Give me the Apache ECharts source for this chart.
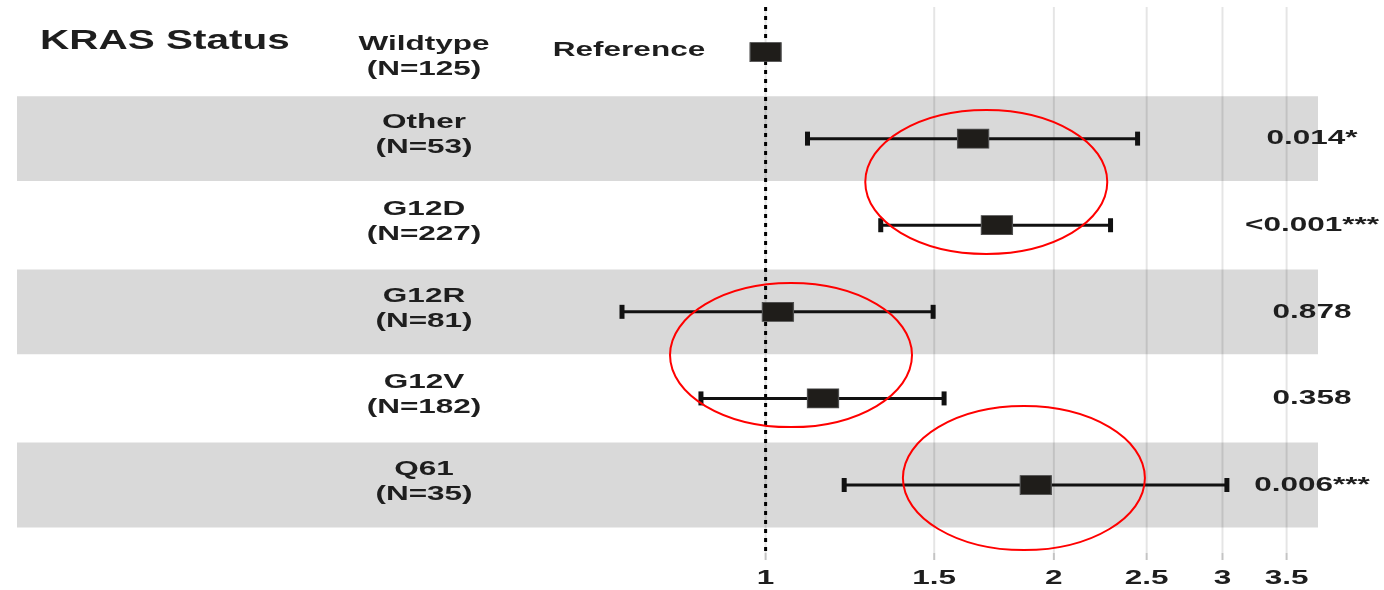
<!DOCTYPE html>
<html>
<head>
<meta charset="utf-8">
<script src="https://cdn.jsdelivr.net/npm/echarts@6/dist/echarts.min.js"></script>
<style>
  html, body { margin: 0; padding: 0; background: #ffffff; }
  #chart { width: 1384px; height: 590px; }
</style>
</head>
<body>
<div id="chart"></div>
<script>
// Forest plot: hazard ratios by KRAS status (log scale)
const groupTitle = 'KRAS Status';
const categories = ['Wildtype', 'Other', 'G12D', 'G12R', 'G12V', 'Q61'];
const counts = [125, 53, 227, 81, 182, 35];
const hazardRatio = [1, 1.647, 1.744, 1.030, 1.148, 1.915];
const ciLower = [null, 1.106, 1.319, 0.708, 0.856, 1.208];
const ciUpper = [null, 2.446, 2.292, 1.496, 1.536, 3.032];
const pLabels = [null, '0.014*', '<0.001***', '0.878', '0.358', '0.006***'];
const referenceLabel = 'Reference';
const tickValues = [1, 1.5, 2, 2.5, 3, 3.5];
const tickLabels = ['1', '1.5', '2', '2.5', '3', '3.5'];
// highlighted groups: hazard ratio / row position of each circled region
const highlightHR = [1.70, 1.063, 1.861];
const highlightRow = [1.5, 3.5, 4.92];

const LN = v => Math.log(v);
const STRETCH = 1.5;
const INK = '#1e1e1e';
const rows = categories.map((_, i) => i);

function label(x, y, str, size, align) {
  return {
    type: 'text', x: x, y: y, scaleX: STRETCH,
    style: {
      text: str,
      font: 'bold ' + size + 'px "Liberation Sans", Arial, sans-serif',
      fill: INK, align: align, verticalAlign: 'middle'
    }
  };
}

const chart = echarts.init(document.getElementById('chart'), null, { renderer: 'canvas' });

const option = {
  animation: false,
  backgroundColor: '#ffffff',
  grid: { left: 0, right: 0, top: 7, bottom: 37, containLabel: false },
  xAxis: { type: 'value', min: -1.841, max: 1.487, show: false },
  yAxis: { type: 'value', min: -0.52, max: 5.785, inverse: true, show: false },
  series: [
    // alternating row shading
    {
      type: 'custom', z: 1, silent: true,
      data: rows.filter(i => i % 2 === 1).map(i => [0, i]),
      renderItem: function (params, api) {
        const cs = params.coordSys;
        const top = api.coord([0, api.value(1) - 0.49])[1];
        const bot = api.coord([0, api.value(1) + 0.49])[1];
        return {
          type: 'rect',
          shape: { x: cs.x + 17, y: top, width: cs.width - 17 - 66, height: bot - top },
          style: { fill: '#d9d9d9' }
        };
      }
    },
    // vertical grid lines, ticks and tick labels
    {
      type: 'custom', z: 2, silent: true,
      data: tickValues.map(t => [LN(t), 0]),
      renderItem: function (params, api) {
        const cs = params.coordSys;
        const x = api.coord([api.value(0), 0])[0];
        const bottom = cs.y + cs.height;
        return {
          type: 'group',
          children: [
            { type: 'line', shape: { x1: x, y1: cs.y, x2: x, y2: bottom },
              style: { stroke: 'rgba(0,0,0,0.1)', lineWidth: 2 } },
            { type: 'line', shape: { x1: x, y1: bottom, x2: x, y2: bottom + 7 },
              style: { stroke: '#c4c4c4', lineWidth: 2 } },
            label(x, bottom + 25, tickLabels[params.dataIndex], 21, 'center')
          ]
        };
      }
    },
    // null-effect reference line at HR = 1
    {
      type: 'custom', z: 3, silent: true,
      data: [[LN(1), 0]],
      renderItem: function (params, api) {
        const cs = params.coordSys;
        const x = api.coord([api.value(0), 0])[0];
        return {
          type: 'line',
          shape: { x1: x, y1: cs.y, x2: x, y2: cs.y + cs.height + 3 },
          style: { stroke: '#000000', lineWidth: 3, lineDash: [4, 5] }
        };
      }
    },
    // confidence intervals
    {
      type: 'custom', z: 4, silent: true,
      data: rows.filter(i => ciLower[i] !== null).map(i => [LN(ciLower[i]), LN(ciUpper[i]), i]),
      renderItem: function (params, api) {
        const row = api.value(2);
        const p1 = api.coord([api.value(0), row]);
        const p2 = api.coord([api.value(1), row]);
        const capW = 5, capH = 14;
        return {
          type: 'group',
          children: [
            { type: 'line', shape: { x1: p1[0], y1: p1[1], x2: p2[0], y2: p2[1] },
              style: { stroke: '#111111', lineWidth: 3 } },
            { type: 'rect', shape: { x: p1[0] - capW / 2, y: p1[1] - capH / 2, width: capW, height: capH },
              style: { fill: '#111111' } },
            { type: 'rect', shape: { x: p2[0] - capW / 2, y: p2[1] - capH / 2, width: capW, height: capH },
              style: { fill: '#111111' } }
          ]
        };
      }
    },
    // point estimates
    {
      type: 'scatter', z: 5, silent: true,
      symbol: 'rect', symbolSize: [31, 19],
      itemStyle: { color: '#1f1d1a', borderColor: '#4d4d4d', borderWidth: 1, opacity: 1 },
      data: rows.map(i => [LN(hazardRatio[i]), i])
    },
    // row labels, reference marker text and p-values
    {
      type: 'custom', z: 6, silent: true,
      data: rows.map(i => [0, i]),
      renderItem: function (params, api) {
        const cs = params.coordSys;
        const i = params.dataIndex;
        const y = api.coord([0, api.value(1)])[1];
        const shift = i === 0 ? 8 : 0;
        const children = [
          label(cs.x + 424, y - 16 + shift, categories[i], 21, 'center'),
          label(cs.x + 424, y + 9 + shift, '(N=' + counts[i] + ')', 21, 'center')
        ];
        if (i === 0) {
          children.push(label(cs.x + 40, y - 10, groupTitle, 27, 'left'));
          children.push(label(cs.x + 629, y - 2, referenceLabel, 21, 'center'));
        }
        if (pLabels[i] !== null) {
          children.push(label(cs.x + 1312, y, pLabels[i], 21, 'center'));
        }
        return { type: 'group', children: children };
      }
    },
    // red highlight ellipses
    {
      type: 'custom', z: 7, silent: true,
      data: highlightHR.map((hr, k) => [LN(hr), highlightRow[k]]),
      renderItem: function (params, api) {
        const c = api.coord([api.value(0), api.value(1)]);
        return {
          type: 'ellipse',
          shape: { cx: c[0], cy: c[1], rx: 121, ry: 72 },
          style: { fill: 'none', stroke: '#ff0000', lineWidth: 2 }
        };
      }
    }
  ]
};

chart.setOption(option);
</script>
</body>
</html>
